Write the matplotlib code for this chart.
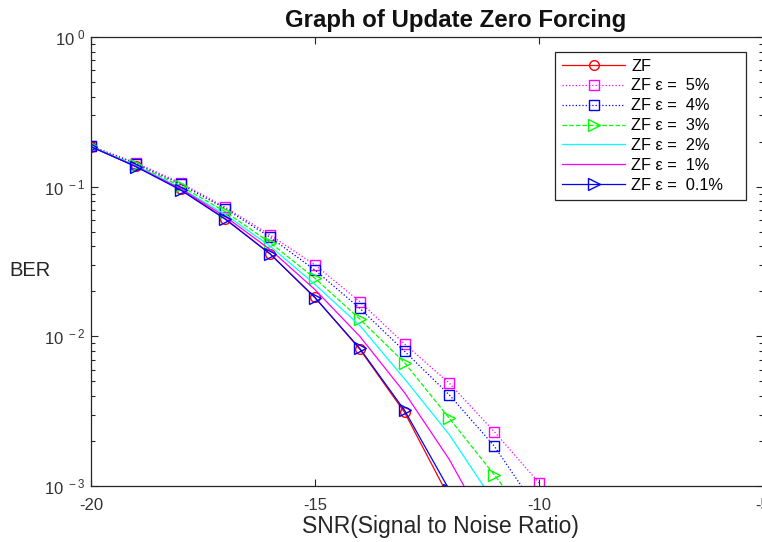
import numpy as np
import matplotlib
matplotlib.use("Agg")
from matplotlib import pyplot as plt
from matplotlib.ticker import LogLocator, FixedLocator, NullLocator, FuncFormatter

plt.rcParams['font.family'] = ['Liberation Sans', 'DejaVu Sans']
plt.rcParams['mathtext.fontset'] = 'custom'
plt.rcParams['mathtext.rm'] = 'Liberation Sans'
plt.rcParams['mathtext.default'] = 'regular'
plt.rcParams['axes.unicode_minus'] = False

# SNR points (dB)
snr = [-20, -19, -18, -17, -16, -15, -14, -13, -12, -11, -10]

# BER curves
ber_zf = [0.185, 0.137, 0.096, 0.061, 0.0355, 0.0182, 0.0082, 0.0031, 0.00083, 0.00012, 0.00001]
ber_e5 = [0.187, 0.1445, 0.106, 0.0728, 0.0475, 0.030, 0.01705, 0.00889, 0.00486, 0.00231, 0.00105]
ber_e4 = [0.186, 0.142, 0.104, 0.0713, 0.0459, 0.0277, 0.01539, 0.00794, 0.00406, 0.00185, 0.00067]
ber_e3 = [0.186, 0.140, 0.101, 0.068, 0.0422, 0.0244, 0.01305, 0.00667, 0.00283, 0.00119, 0.00048]
ber_e2 = [0.185, 0.138, 0.098, 0.065, 0.040, 0.0222, 0.0118, 0.0052, 0.0022, 0.00078, 0.0002]
ber_e1 = [0.185, 0.137, 0.097, 0.063, 0.038, 0.0205, 0.0100, 0.0042, 0.0015, 0.00043, 0.0001]
ber_e01 = [0.185, 0.136, 0.095, 0.0605, 0.0355, 0.0181, 0.0083, 0.0032, 0.00094, 0.00014, 0.000012]

labels = ['ZF', 'ZF \u03b5 =  5%', 'ZF \u03b5 =  4%', 'ZF \u03b5 =  3%',
          'ZF \u03b5 =  2%', 'ZF \u03b5 =  1%', 'ZF \u03b5 =  0.1%']

RED, MAG, BLU, GRN, CYN = '#ff0000', '#ff00ff', '#0000ff', '#00ff00', '#00ffff'

fig = plt.figure(figsize=(7.62, 5.42), dpi=100)
ax = fig.add_axes([91 / 762, 56 / 542, 672 / 762, 449 / 542])

lw = 0.9
ms = 7
ax.semilogy(snr, ber_zf, '-', color=RED, marker='o', mfc='none', lw=lw, ms=ms, label=labels[0])
ax.semilogy(snr, ber_e5, ':', color=MAG, marker='s', mfc='none', lw=lw, ms=ms, label=labels[1])
ax.semilogy(snr, ber_e4, ':', color=BLU, marker='s', mfc='none', lw=lw, ms=ms, label=labels[2])
ax.semilogy(snr, ber_e3, '--', color=GRN, marker='>', mfc='none', lw=lw, ms=ms + 1.5, label=labels[3])
ax.semilogy(snr, ber_e2, '-', color=CYN, lw=lw, label=labels[4])
ax.semilogy(snr, ber_e1, '-', color=MAG, lw=lw, label=labels[5])
ax.semilogy(snr, ber_e01, '-', color=BLU, marker='>', mfc='none', lw=lw, ms=ms + 1.5, label=labels[6])

ax.set_xlim(-20, -5)
ax.set_ylim(1e-3, 1)
ax.xaxis.set_major_locator(FixedLocator([-20, -15, -10, -5]))
ax.xaxis.set_minor_locator(NullLocator())
ax.yaxis.set_major_locator(LogLocator(base=10, numticks=10))
ax.yaxis.set_minor_locator(LogLocator(base=10, subs=np.arange(2, 10), numticks=10))
ax.yaxis.set_major_formatter(FuncFormatter(lambda v, p: r'$10^{\ %d}$' % round(np.log10(v))))

ax.tick_params(which='both', direction='in', top=True, right=True, labelsize=12,
               colors='#262626', labelcolor='#333333')
ax.tick_params(which='major', length=5, width=0.8)
ax.tick_params(which='minor', length=3, width=0.8)
ax.tick_params(axis='x', pad=9)
ax.tick_params(axis='y', pad=4)
for s in ax.spines.values():
    s.set_color('#262626')
    s.set_linewidth(0.9)

fig.text(456 / 762, 1 - 21 / 542, 'Graph of Update Zero Forcing', ha='center', va='center',
         fontsize=17.3, fontweight='bold', color='#111111')
fig.text(440 / 762, 1 - 527 / 542, 'SNR(Signal to Noise Ratio)', ha='center', va='center',
         fontsize=16.5, color='#262626')
fig.text(30 / 762, 1 - 270 / 542, 'BER', ha='center', va='center',
         fontsize=14.5, color='#262626')

# legend box spans a fixed width inside the axes
x0 = (555 - 91) / 672
y1 = (486 - 52) / 449
w = (746 - 555) / 672
leg = ax.legend(loc='upper left', bbox_to_anchor=(x0, y1 - 0.2, w, 0.2), mode='expand',
                borderaxespad=0, fontsize=11.8, handlelength=3.9, handletextpad=0.35,
                labelspacing=0.3, fancybox=False, framealpha=1, edgecolor='#262626',
                borderpad=0.4)
leg.get_frame().set_linewidth(0.9)

fig.savefig('out.png', dpi=100)
